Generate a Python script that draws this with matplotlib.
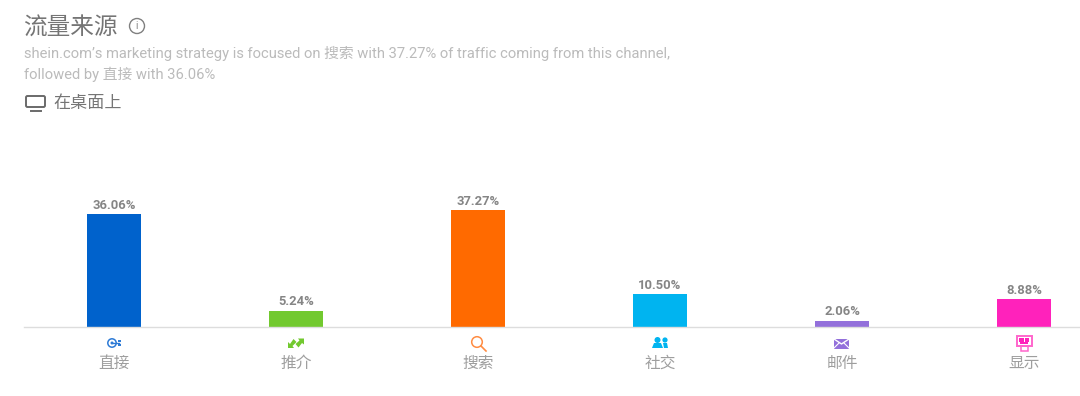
#!/usr/bin/env python3
# Traffic sources bar chart (shein.com, desktop)

import matplotlib
matplotlib.use("Agg")
import matplotlib.pyplot as plt
from matplotlib.patches import Circle, Rectangle, FancyBboxPatch, Polygon

plt.rcParams["font.family"] = ["Roboto", "Noto Sans CJK SC", "DejaVu Sans"]

channels = ["直接", "推介", "搜索", "社交", "邮件", "显示"]
shares = [36.06, 5.24, 37.27, 10.50, 2.06, 8.88]
colors = ["#0062CC", "#72C92F", "#FF6A00", "#00B4F0", "#9370DB", "#FF22BB"]
value_labels = ["36.06%", "5.24%", "37.27%", "10.50%", "2.06%", "8.88%"]

W, H = 1080, 396
fig = plt.figure(figsize=(W / 100, H / 100), dpi=100)

# bars axes: baseline at y=327px, spans x=24..1080
ax = fig.add_axes([24 / W, (H - 327) / H, (W - 24) / W, 197 / H])
xs = list(range(len(channels)))
ax.bar(xs, shares, width=54 / 182, color=colors, linewidth=0)
ax.set_xlim(-90 / 182, 5 + 56 / 182)
ax.set_ylim(0, 197 / 3.14)
for s in ["top", "left", "right"]:
    ax.spines[s].set_visible(False)
ax.spines["bottom"].set_color("#DDDDDD")
ax.spines["bottom"].set_linewidth(1)
ax.set_yticks([])
ax.set_xticks([])
for x, v, lab in zip(xs, shares, value_labels):
    ax.annotate(lab, (x, v), xytext=(0, 1.6), textcoords="offset points", ha="center", va="bottom",
                fontsize=9.4, fontweight="bold", color="#858585")
for x, name in zip(xs, channels):
    ax.annotate(name, (x, 0), xytext=(0.3, -26), textcoords="offset points", ha="center", va="center",
                fontsize=11.3, color="#9E9E9E")

# overlay in pixel coords for header and icons
ov = fig.add_axes([0, 0, 1, 1], facecolor="none")
ov.set_xlim(0, W)
ov.set_ylim(H, 0)
ov.axis("off")

ov.text(23, 28, "流量来源", fontsize=17, color="#757575", va="center", ha="left")
ov.text(24, 53.5, "shein.com’s marketing strategy is focused on 搜索 with 37.27% of traffic coming from this channel,",
        fontsize=10.65, color="#BBBBBB", va="center", ha="left")
ov.text(24, 74, "followed by 直接 with 36.06%", fontsize=10.65, color="#BBBBBB", va="center", ha="left")
ov.text(53, 103, "在桌面上", fontsize=12.3, color="#757575", va="center", ha="left")

# info icon
ov.add_patch(Circle((137, 26), 7.5, fill=False, ec="#808080", lw=1))
ov.text(137, 26, "i", fontsize=7, color="#808080", ha="center", va="center")

# monitor icon
ov.add_patch(FancyBboxPatch((26, 96), 19, 11, boxstyle="round,pad=0,rounding_size=1.5",
                            fill=False, ec="#6A6A6A", lw=1.4))
ov.plot([31, 41], [111, 111], color="#6A6A6A", lw=1.4)

# channel icons, each around its category centre (px)
cx = [114 + 182 * i for i in range(6)]
cy = 343

# direct
ov.add_patch(Circle((cx[0] - 2, cy), 4.2, fill=False, ec="#2E7BD6", lw=1.1))
ov.add_patch(Circle((cx[0] - 2, cy), 1.5, color="#2E7BD6", lw=0))
ov.plot([cx[0] - 1, cx[0] + 5], [cy, cy], color="#2E7BD6", lw=1)
ov.add_patch(Rectangle((cx[0] + 4, cy - 3), 3, 2, color="#2E7BD6", lw=0))
ov.add_patch(Rectangle((cx[0] + 4, cy + 1), 3, 2, color="#2E7BD6", lw=0))

# referral arrows
ov.add_patch(Polygon([(cx[1] - 8, cy - 1), (cx[1] - 8, cy + 5), (cx[1] - 2, cy + 5), (cx[1] - 3.5, cy + 3),
                      (cx[1] + 0.5, cy - 1), (cx[1] - 2.5, cy - 4), (cx[1] - 6, cy + 1)], color=colors[1], lw=0))
ov.add_patch(Polygon([(cx[1] + 8, cy - 4.5), (cx[1] + 2, cy - 4.5), (cx[1] + 3.5, cy - 2.5), (cx[1] - 0.5, cy + 1),
                      (cx[1] + 2.5, cy + 4.5), (cx[1] + 6, cy + 0), (cx[1] + 8, cy + 1.5)], color=colors[1], lw=0))

# search
ov.add_patch(Circle((cx[2] - 1, cy - 1), 5.3, fill=False, ec="#FF8C42", lw=1.1))
ov.plot([cx[2] + 3, cx[2] + 8], [cy + 3, cy + 8], color="#FF8C42", lw=1.2)

# social
for dx, r in [(-2.5, 3), (5, 2.6)]:
    ov.add_patch(Circle((cx[3] + dx, cy - 3), r, color=colors[3], lw=0))
ov.add_patch(Polygon([(cx[3] - 8, cy + 5), (cx[3] - 6, cy), (cx[3] + 1, cy), (cx[3] + 3, cy + 5)],
                     color=colors[3], lw=0))
ov.add_patch(Polygon([(cx[3] + 3, cy), (cx[3] + 7, cy), (cx[3] + 8, cy + 5), (cx[3] + 4, cy + 5)],
                     color=colors[3], lw=0))

# mail
ov.add_patch(Rectangle((cx[4] - 8, cy - 4.5), 15, 10, color="#9370DB", lw=0))
ov.plot([cx[4] - 8, cx[4] - 0.5, cx[4] + 7], [cy - 4, cy + 1, cy - 4], color="white", lw=1)
ov.plot([cx[4] - 8, cx[4] - 3], [cy + 5, cy], color="white", lw=0.8)
ov.plot([cx[4] + 7, cx[4] + 2], [cy + 5, cy], color="white", lw=0.8)

# display
ov.add_patch(Rectangle((cx[5] - 7.5, cy - 7.5), 15, 10.5, fill=False, ec="#FF66CC", lw=1.4))
ov.add_patch(Rectangle((cx[5] - 5, cy - 5), 4.5, 3.5, color="#FF22BB", lw=0))
ov.add_patch(Rectangle((cx[5] + 0.5, cy - 5), 4.5, 3.5, color="#FF22BB", lw=0))
ov.add_patch(Rectangle((cx[5] - 4, cy - 1), 8, 2, color="#FF22BB", lw=0))
ov.add_patch(Rectangle((cx[5] - 3.5, cy + 3), 7, 4.5, fill=False, ec="#FF66CC", lw=1.1))

fig.savefig("out.png", dpi=100, facecolor="white")
